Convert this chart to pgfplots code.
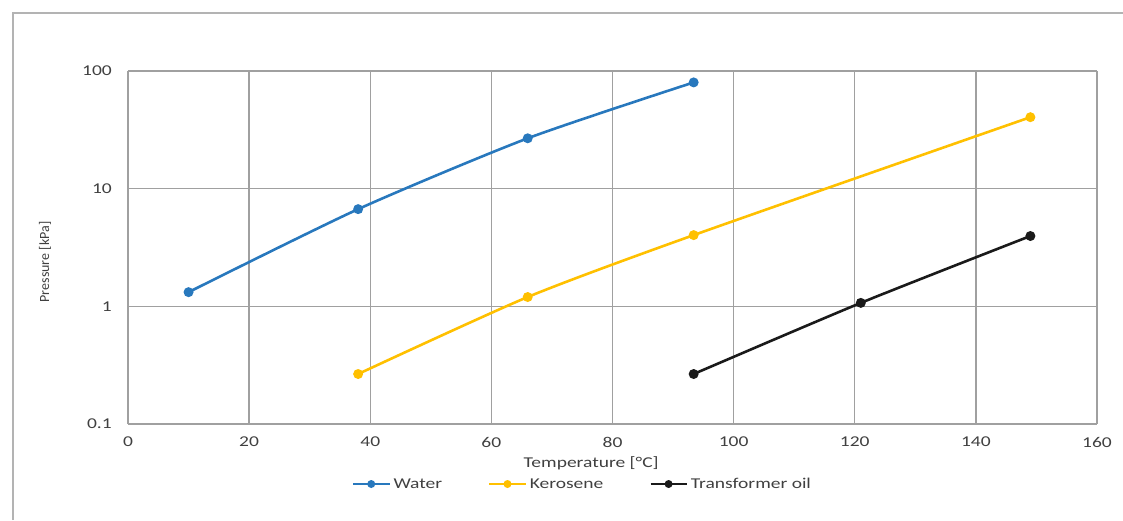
\documentclass[border=0pt]{standalone}
\usepackage{fontspec}
\setmainfont{Carlito}[FakeStretch=1.3]
\newfontfamily\ylabfont{Carlito}
\usepackage{pgfplots}
\pgfplotsset{compat=1.18}
\definecolor{cwater}{HTML}{2878BD}
\definecolor{ckero}{HTML}{FFC000}
\definecolor{coil}{HTML}{1A1A1A}
\definecolor{cgrid}{HTML}{A0A0A0}
\begin{document}
\begin{tikzpicture}[x=1pt,y=1pt]
\useasboundingbox (0,0) rectangle (1123,520);
\draw[cgrid!80, line width=2pt] (13,0) -- (13,507) -- (1123,507);
\begin{axis}[
  at={(128pt,96pt)}, anchor=south west,
  scale only axis, width=969pt, height=353pt,
  xmin=0, xmax=160, ymode=log, ymin=0.1, ymax=100,
  xtick={0,20,40,60,80,100,120,140,160},
  xticklabels={0,20,40,60,80,100,120,140,160},
  ytick={0.1,1,10,100},
  yticklabels={0.1,1,10,100},
  yminorticks=false, xminorticks=false,
  /pgf/number format/assume math mode=true,
  major tick length=0pt, minor tick length=0pt,
  grid=major,
  major grid style={cgrid, line width=1.3pt},
  axis line style={draw=none},
  tick label style={font=\fontsize{15}{17}\selectfont, text=black!75},
  xticklabel style={anchor=north, inner sep=0pt, yshift=-13pt},
  yticklabel style={anchor=east, inner sep=0pt, xshift=-16pt},
  xlabel={Temperature [\textdegree C]},
  xlabel style={at={(axis description cs:0.478,-0.110)}, anchor=center, font=\fontsize{15}{17}\selectfont, text=black!75},
  ylabel={Pressure [kPa]},
  ylabel style={at={(axis description cs:-0.0857,0.459)}, anchor=center, rotate=0, font=\ylabfont\fontsize{14}{16}\selectfont, text=black!75},
  legend columns=3,
  legend style={at={(axis description cs:0.469,-0.170)}, anchor=center, draw=none, fill=none,
    font=\fontsize{15}{17}\selectfont, text=black!75, inner sep=0pt,
    /tikz/every even column/.append style={column sep=44pt},
    /tikz/every odd column/.append style={column sep=1pt}},
  legend image code/.code={\draw[mark repeat=2,mark phase=2, mark size=2.6pt] plot coordinates {(0pt,0pt)(18pt,0pt)(36pt,0pt)};},
  every axis plot/.append style={line width=2.6pt, mark=*, mark size=3.6pt, smooth, tension=0.4},
]
\addplot[cwater, mark options={fill=cwater, draw=cwater}] coordinates {(10,1.32) (38,6.7) (66,26.8) (93.4,80)};
\addlegendentry{Water}
\addplot[ckero, mark options={fill=ckero, draw=ckero}] coordinates {(38,0.266) (66,1.2) (93.4,4.03) (149,40.5)};
\addlegendentry{Kerosene}
\addplot[coil, mark options={fill=coil, draw=coil}] coordinates {(93.4,0.266) (121,1.07) (149,3.96)};
\addlegendentry{Transformer oil}
\end{axis}
\end{tikzpicture}
\end{document}
